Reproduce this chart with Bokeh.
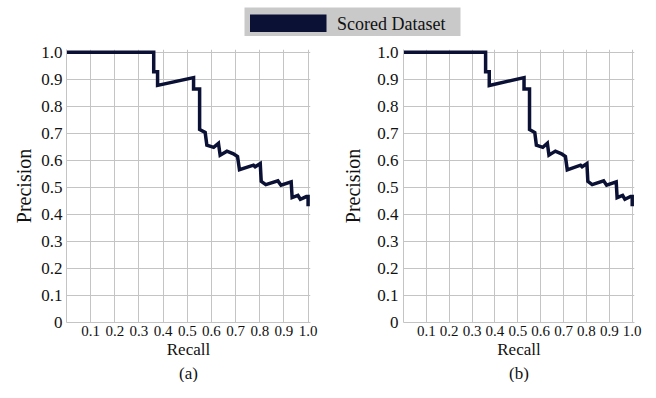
from bokeh.plotting import figure
from bokeh.models import Range1d, FixedTicker, Title
from bokeh.core.properties import value
from bokeh.layouts import column, row
from bokeh.embed import file_html
from bokeh.resources import INLINE

series_name = "Scored Dataset"
panel_labels = ["(a)", "(b)"]
x_label = "Recall"
y_label = "Precision"

recall_a = [0.0, 0.361, 0.361, 0.377, 0.377, 0.526, 0.526, 0.551, 0.551, 0.574, 0.581,
            0.609, 0.629, 0.636, 0.664, 0.691, 0.708, 0.716, 0.774, 0.781, 0.802, 0.806,
            0.825, 0.875, 0.888, 0.930, 0.934, 0.958, 0.968, 0.993, 1.0, 1.0]
precision_a = [1.0, 1.0, 0.928, 0.928, 0.877, 0.906, 0.864, 0.864, 0.714, 0.703, 0.656,
               0.648, 0.663, 0.619, 0.634, 0.624, 0.614, 0.565, 0.582, 0.576, 0.588, 0.522,
               0.510, 0.524, 0.508, 0.520, 0.462, 0.470, 0.456, 0.466, 0.466, 0.430]

recall_b = [0.0, 0.359, 0.359, 0.375, 0.375, 0.527, 0.527, 0.551, 0.551, 0.574, 0.581,
            0.609, 0.629, 0.636, 0.664, 0.691, 0.708, 0.716, 0.774, 0.781, 0.802, 0.806,
            0.825, 0.875, 0.888, 0.930, 0.934, 0.958, 0.968, 0.993, 1.0, 1.0]
precision_b = [1.0, 1.0, 0.928, 0.928, 0.877, 0.906, 0.864, 0.864, 0.714, 0.703, 0.656,
               0.648, 0.663, 0.619, 0.634, 0.624, 0.614, 0.565, 0.582, 0.576, 0.588, 0.522,
               0.510, 0.524, 0.508, 0.520, 0.462, 0.470, 0.456, 0.466, 0.466, 0.430]

x_ticks = [0.0, 0.1, 0.2, 0.3, 0.4, 0.5, 0.6, 0.7, 0.8, 0.9, 1.0]
x_tick_labels = ["", "0.1", "0.2", "0.3", "0.4", "0.5", "0.6", "0.7", "0.8", "0.9", "1.0"]
y_ticks = [0.0, 0.1, 0.2, 0.3, 0.4, 0.5, 0.6, 0.7, 0.8, 0.9, 1.0]
y_tick_labels = ["0", "0.1", "0.2", "0.3", "0.4", "0.5", "0.6", "0.7", "0.8", "0.9", "1.0"]

NAVY = "#0b1035"
GRID = "#c4c4c4"
FONT = "Liberation Serif"
TEXT = "#111111"


def make_chart(recall, precision, sub, width, left, right, top, ylab_standoff, ytick_standoff):
    p = figure(width=width, height=346, title=None,
               x_range=Range1d(0, 1.01), y_range=Range1d(0, 1.01),
               output_backend="svg", toolbar_location=None,
               min_border_left=left, min_border_right=right,
               min_border_top=top, min_border_bottom=0,
               outline_line_color=None, background_fill_color="white",
               border_fill_color="white")
    p.line(recall, precision, line_color=NAVY, line_width=3.5, line_join="miter")

    p.xaxis.ticker = FixedTicker(ticks=x_ticks)
    p.yaxis.ticker = FixedTicker(ticks=y_ticks)
    p.xaxis.major_label_overrides = dict(zip(x_ticks, x_tick_labels))
    p.yaxis.major_label_overrides = dict(zip(y_ticks, y_tick_labels))

    for ax in (p.xaxis[0], p.yaxis[0]):
        ax.major_tick_line_color = None
        ax.minor_tick_line_color = None
        ax.major_tick_out = 0
        ax.major_tick_in = 0
        ax.minor_tick_out = 0
        ax.minor_tick_in = 0
        ax.axis_line_color = GRID
        ax.major_label_text_font = FONT
        ax.major_label_text_color = TEXT
        ax.axis_label_text_font = FONT
        ax.axis_label_text_font_style = "normal"
        ax.axis_label_text_color = TEXT

    p.xaxis.major_label_text_font_size = "15px"
    p.yaxis.major_label_text_font_size = "17px"
    p.xaxis.major_label_standoff = 3
    p.yaxis.major_label_standoff = ytick_standoff
    p.xaxis.axis_label = x_label
    p.yaxis.axis_label = y_label
    p.xaxis.axis_label_text_font_size = "17px"
    p.yaxis.axis_label_text_font_size = "20px"
    p.xaxis.axis_label_standoff = 1
    p.yaxis.axis_label_standoff = ylab_standoff

    p.grid.grid_line_color = GRID
    p.grid.grid_line_width = 1
    p.grid.grid_line_alpha = 1

    t = Title(text=sub, align="center", text_font=FONT, text_font_size="17px",
              text_font_style="normal", text_color=TEXT, standoff=0)
    p.add_layout(t, "below")
    return p


fig_a = make_chart(recall_a, precision_a, panel_labels[0], 320, 66, 10, 11, 3, 4)
fig_b = make_chart(recall_b, precision_b, panel_labels[1], 326, 83, 12, 13, 10, 5)

# legend strip (drawn in pixel units of its own canvas)
lf = figure(width=646, height=36, x_range=Range1d(0, 646), y_range=Range1d(36, 0),
            output_backend="svg", toolbar_location=None, title=None,
            x_axis_type=None, y_axis_type=None,
            min_border=0, outline_line_color=None)
lf.grid.visible = False
lf.quad(left=244, right=460, top=7, bottom=36, fill_color="#c9c9c9", line_color=None)
lf.quad(left=249.5, right=326, top=14, bottom=31.5, fill_color=NAVY, line_color=None)
lf.text(x=336.5, y=23, text=[series_name], text_font=value(FONT), text_font_size="18px",
        text_color=TEXT, text_baseline="middle", text_align="left")

layout = column(lf, row(fig_a, fig_b, spacing=0), spacing=0)

open("out.html", "w").write(file_html(layout, INLINE))
